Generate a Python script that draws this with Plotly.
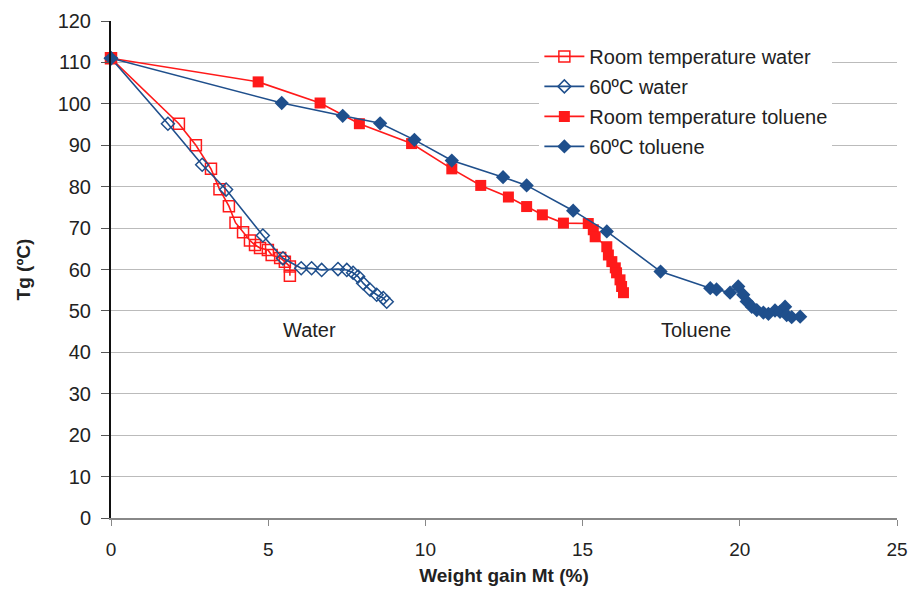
import plotly.graph_objects as go

# Room temperature water (open squares)
rt_water_x = [0, 2.16, 2.7, 3.18, 3.45, 3.75, 3.96, 4.2, 4.42, 4.58, 4.74, 4.99, 5.11, 5.38, 5.53, 5.69, 5.69]
rt_water_y = [111, 95.2, 90, 84.3, 79.4, 75.3, 71.3, 69, 67, 65.9, 65.2, 64.7, 63.5, 62.8, 61.9, 60.7, 58.5]

# 60 C water (open diamonds)
hot_water_x = [0, 1.81, 2.9, 3.66, 4.83, 5.47, 6.05, 6.38, 6.7, 7.22, 7.5, 7.7, 7.86, 8.02, 8.24, 8.45, 8.66, 8.77]
hot_water_y = [111, 95.2, 85.3, 79.3, 68.2, 62.7, 60.3, 60.3, 59.9, 60.1, 59.9, 59.2, 58.3, 56.7, 55.1, 53.9, 53.1, 52.2]

# Room temperature toluene (filled squares)
rt_tol_x = [0, 4.68, 6.65, 7.9, 9.56, 10.84, 11.76, 12.64, 13.22, 13.72, 14.39, 15.18, 15.34, 15.4, 15.77,
            15.82, 15.93, 16.04, 16.08, 16.19, 16.24, 16.3]
rt_tol_y = [111, 105.3, 100.2, 95.2, 90.4, 84.3, 80.3, 77.5, 75.2, 73.2, 71.2, 71.1, 69.6, 67.9, 65.5,
            63.5, 61.9, 60.4, 59.2, 57.5, 55.9, 54.4]

# 60 C toluene (filled diamonds)
hot_tol_x = [0, 5.43, 7.37, 8.56, 9.65, 10.84, 12.47, 13.22, 14.7, 15.77, 17.48, 19.06, 19.26, 19.69, 19.95,
             20.11, 20.22, 20.38, 20.54, 20.75, 20.91, 21.12, 21.28, 21.44, 21.49, 21.65, 21.92]
hot_tol_y = [111, 100.2, 97.1, 95.3, 91.3, 86.3, 82.3, 80.3, 74.2, 69.2, 59.5, 55.5, 55.2, 54.4, 55.9,
             53.9, 52.3, 51, 50.2, 49.6, 49.3, 50.1, 49.8, 51, 49, 48.5, 48.6]

x_ticks = [0, 5, 10, 15, 20, 25]
y_ticks = [0, 10, 20, 30, 40, 50, 60, 70, 80, 90, 100, 110, 120]

RED = "#FF1A1A"
BLUE = "#1F4F8C"

fig = go.Figure()
fig.add_trace(go.Scatter(x=rt_water_x, y=rt_water_y, mode="lines+markers", name="Room temperature water",
                         legendgroup="a",
                         line=dict(color=RED, width=1.6),
                         marker=dict(symbol="square-open", size=11, color=RED, line=dict(width=1.5)),
                         cliponaxis=False))
fig.add_trace(go.Scatter(x=hot_water_x, y=hot_water_y, mode="lines+markers", name="60ºC water",
                         legendgroup="b",
                         line=dict(color=BLUE, width=1.6),
                         marker=dict(symbol="diamond-open", size=10, color=BLUE, line=dict(width=1.5)),
                         cliponaxis=False))
fig.add_trace(go.Scatter(x=rt_tol_x, y=rt_tol_y, mode="lines+markers", name="Room temperature toluene",
                         legendgroup="c",
                         line=dict(color=RED, width=1.6),
                         marker=dict(symbol="square", size=11, color=RED),
                         cliponaxis=False))
fig.add_trace(go.Scatter(x=hot_tol_x, y=hot_tol_y, mode="lines+markers", name="60ºC toluene",
                         legendgroup="d",
                         line=dict(color=BLUE, width=1.6),
                         marker=dict(symbol="diamond", size=11, color=BLUE),
                         cliponaxis=False))

fig.add_annotation(x=6.3, y=45.3, text="Water", showarrow=False, font=dict(size=20, color="#222"))
fig.add_annotation(x=18.6, y=45.5, text="Toluene", showarrow=False, font=dict(size=20, color="#222"))

fig.update_layout(
    width=909, height=599,
    margin=dict(l=111, r=12, t=21, b=81),
    paper_bgcolor="white", plot_bgcolor="white",
    font=dict(family="Liberation Sans, Arial, sans-serif", size=19, color="#222"),
    legend=dict(x=0.545, y=0.968, xanchor="left", yanchor="top", bgcolor="rgba(255,255,255,1)",
                font=dict(size=20), tracegroupgap=1, itemwidth=40),
    xaxis=dict(range=[0, 25], tickvals=x_ticks, ticks="outside", ticklen=6, tickcolor="#888",
               showgrid=False, zeroline=False, showline=True, linecolor="#888", linewidth=1.5,
               automargin=False, ticklabelstandoff=7,
               title=dict(text="<b>Weight gain Mt (%)</b>", font=dict(size=19), standoff=10),
               tickfont=dict(size=19)),
    yaxis=dict(range=[0, 120], tickvals=y_ticks, ticks="outside", ticklen=8, tickcolor="#555",
               showgrid=True, gridcolor="#BBBBBB", gridwidth=1.2, zeroline=False,
               showline=True, linecolor="#111", linewidth=2,
               automargin=False, ticklabelstandoff=6,
               title=dict(text="<b>Tg (ºC)</b>", font=dict(size=19), standoff=22),
               tickfont=dict(size=20)),
)

fig.write_html("out.html")
